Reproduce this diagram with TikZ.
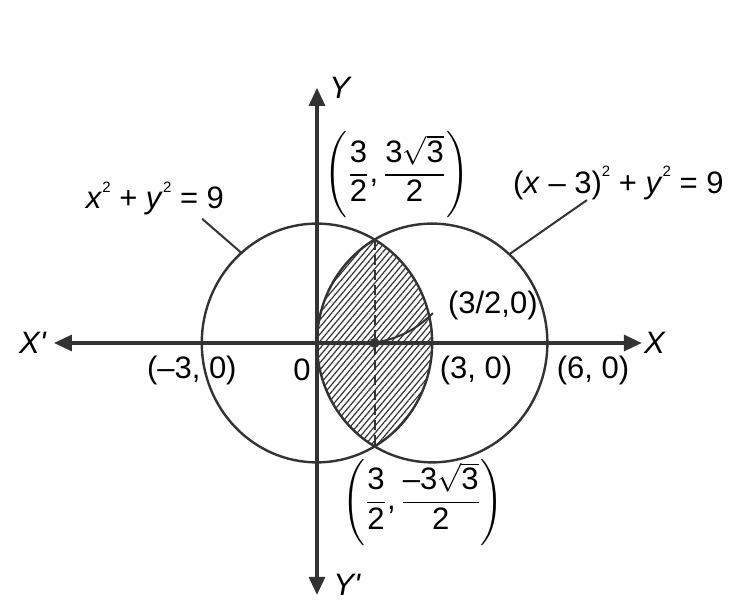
\documentclass[tikz,border=0pt]{standalone}
\usepackage{amsmath}
\usepackage{fontspec}
\setmainfont{Liberation Sans}
\usepackage{tikz}
\usetikzlibrary{positioning, arrows.meta, patterns.meta}
\definecolor{linegray}{HTML}{333333}
\newcommand{\supt}[1]{\raisebox{0.52em}{\fontsize{7.5}{8}\selectfont #1}}
\tikzset{
  axis/.style={draw=linegray, line width=1.6pt,
    {Triangle[length=9pt,width=8pt]}-{Triangle[length=9pt,width=8pt]}},
  curve/.style={draw=linegray, line width=1.2pt},
  pointer/.style={draw=linegray, line width=1pt},
  lbl/.style={font=\fontsize{15.5}{18}\selectfont, text=black, inner sep=1pt},
}

\begin{document}
\begin{tikzpicture}[x=19.2pt, y=19.9pt]
    \useasboundingbox (-8.255,-6.482) rectangle (10.86,8.618);

    % shaded lens between the two circles
    \begin{scope}
      \clip (3,0) circle (3);
      \fill[pattern={Lines[angle=50,distance=2.3pt,line width=0.6pt]}, pattern color=linegray] (0,0) circle (3);
    \end{scope}

    \draw[curve] (0,0) circle (3);
    \draw[curve] (3,0) circle (3);

    \coordinate (xl) at (-6.85,0);
    \coordinate (xr) at (8.46,0);
    \coordinate (yt) at (0,6.41);
    \coordinate (yb) at (0,-6.33);
    \draw[axis] (xl) -- (xr);
    \draw[axis] (yb) -- (yt);
    \node[lbl, left=2.5pt of xl] (xlbl) {\textit{X\textquotesingle}};
    \node[lbl, right=0pt of xr] (xrlbl) {\textit{X}};
    \node[lbl, inner sep=0pt, right=6pt of yt, yshift=0pt] (ytlbl) {\textit{Y}};
    \node[lbl, right=7pt of yb, yshift=5pt] (yblbl) {\textit{Y\textquotesingle}};

    \coordinate (top) at (1.5,2.598);
    \coordinate (bot) at (1.5,-2.598);
    \draw[linegray, line width=1pt, dash pattern=on 5pt off 2.5pt] (top) -- (bot);
    \node[circle, fill=linegray, inner sep=0pt, minimum size=5pt] (mid) at (1.5,0) {};

    \node[lbl] (neg3) at (-3.26,-0.68) {(–3, 0)};
    \node[lbl] (orig) at (-0.39,-0.68) {0};
    \node[lbl] (pos3) at (4.14,-0.68) {(3, 0)};
    \node[lbl] (pos6) at (7.19,-0.68) {(6, 0)};

    \node[lbl] (midlbl) at (4.58,0.955) {(3/2,0)};
    \coordinate (m1) at (3.02,0.75);
    \draw[pointer] (m1) to[bend left=15] (mid);

    \node[lbl, inner sep=0pt] (toplbl) at (2.08,4.22)
      {$\displaystyle\Biggl(\frac{\mbox{3}}{\mbox{2}}\mbox{,}\,\frac{\mbox{3}\sqrt{\mbox{3}}}{\mbox{2}}\Biggr)$};
    \node[lbl, inner sep=0pt] (botlbl) at (2.76,-4.0)
      {$\displaystyle\Biggl(\frac{\mbox{3}}{\mbox{2}}\mbox{,}\,\frac{\mbox{–3}\sqrt{\mbox{3}}}{\mbox{2}}\Biggr)$};

    \node[lbl] (eq1) at (-4.22,3.64) {\textit{x}\supt{2} + \textit{y}\supt{2} = 9};
    \coordinate (e1) at (-2.99,3.12);
    \coordinate (c1p) at (131:3);
    \draw[pointer] (e1) -- (c1p);

    \node[lbl] (eq2) at (7.85,4.02) {(\textit{x} – 3)\supt{2} + \textit{y}\supt{2} = 9};
    \coordinate (e2) at (7.03,3.59);
    \coordinate (c2p) at (5.007,2.229);
    \draw[pointer] (e2) -- (c2p);
\end{tikzpicture}
\end{document}
